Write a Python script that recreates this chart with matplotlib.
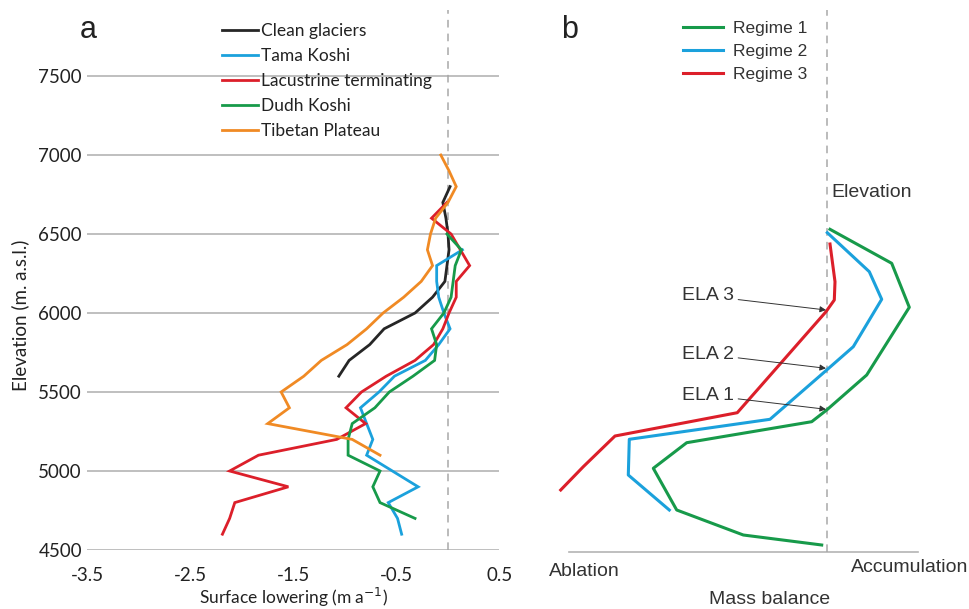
import matplotlib
matplotlib.use("Agg")
import matplotlib.pyplot as plt
import numpy as np

plt.rcParams['axes.unicode_minus'] = False

# ---------------- Panel a data ----------------
clean_elev = [5600, 5700, 5800, 5900, 6000, 6100, 6200, 6300, 6400, 6500, 6600, 6700, 6800]
clean_val = [-1.06, -0.96, -0.76, -0.62, -0.32, -0.15, -0.03, -0.01, 0.01, 0.0, -0.02, -0.05, 0.02]

tama_elev = [4600, 4700, 4800, 4900, 5000, 5100, 5200, 5300, 5400, 5500, 5600, 5700,
             5800, 5900, 6000, 6100, 6200, 6300, 6400]
tama_val = [-0.45, -0.49, -0.58, -0.29, -0.54, -0.79, -0.73, -0.79, -0.85, -0.67, -0.52, -0.22,
            -0.09, 0.02, -0.04, -0.09, -0.11, -0.11, 0.14]

lac_elev = [4600, 4700, 4800, 4900, 5000, 5100, 5200, 5300, 5400, 5500, 5600, 5700,
            5800, 5900, 6000, 6100, 6200, 6300, 6400, 6500, 6600, 6700]
lac_val = [-2.19, -2.12, -2.07, -1.55, -2.12, -1.84, -1.08, -0.80, -0.99, -0.84, -0.60, -0.32,
           -0.14, -0.05, 0.01, 0.08, 0.08, 0.21, 0.12, 0.03, -0.16, -0.01]

dudh_elev = [4700, 4800, 4900, 5000, 5100, 5200, 5300, 5400, 5500, 5600, 5700, 5800,
             5900, 6000, 6100, 6200, 6300, 6400, 6500]
dudh_val = [-0.32, -0.66, -0.73, -0.66, -0.97, -0.97, -0.93, -0.71, -0.57, -0.34, -0.13, -0.11,
            -0.16, -0.04, 0.03, 0.05, 0.07, 0.13, -0.01]

tib_elev = [5100, 5200, 5300, 5400, 5500, 5600, 5700, 5800, 5900, 6000, 6100, 6200,
            6300, 6400, 6500, 6600, 6700, 6800, 6900, 7000]
tib_val = [-0.66, -0.93, -1.75, -1.54, -1.62, -1.40, -1.23, -0.98, -0.79, -0.63, -0.43, -0.26,
           -0.15, -0.20, -0.17, -0.12, 0.0, 0.08, 0.01, -0.07]

series_names = ["Clean glaciers", "Tama Koshi", "Lacustrine terminating", "Dudh Koshi", "Tibetan Plateau"]
colors_a = ["#262626", "#1ba1dc", "#dc1f2a", "#179a4a", "#f08a24"]

yticks_a = [4500, 5000, 5500, 6000, 6500, 7000, 7500]
xticks_a = [-3.5, -2.5, -1.5, -0.5, 0.5]

# ---------------- Panel b data (schematic) ----------------
reg1_mb = [0.03, 0.647, 0.823, 0.397, -0.003, -0.153, -1.403, -1.737, -1.503, -0.837, -0.053]
reg1_z = [3.227, 2.887, 2.447, 1.77, 1.42, 1.303, 1.093, 0.837, 0.42, 0.17, 0.07]
reg2_mb = [0.003, 0.423, 0.547, 0.263, -0.003, -0.57, -1.977, -1.987, -1.577]
reg2_z = [3.193, 2.803, 2.527, 2.053, 1.82, 1.327, 1.127, 0.77, 0.42]
reg3_mb = [0.03, 0.08, 0.073, -0.01, -0.897, -2.12, -2.437, -2.663]
reg3_z = [3.08, 2.703, 2.52, 2.403, 1.393, 1.16, 0.853, 0.62]
regime_names = ["Regime 1", "Regime 2", "Regime 3"]
colors_b = ["#179a4a", "#1ba1dc", "#dc1f2a"]
ela_labels = ["ELA 3", "ELA 2", "ELA 1"]
ela_z = [2.42, 1.837, 1.427]

# ---------------- Figure ----------------
W, H = 970, 609
fig = plt.figure(figsize=(W / 100, H / 100), dpi=100)

font_a = ["Lato", "DejaVu Sans"]
font_b = ["Liberation Sans", "DejaVu Sans"]

# Panel a axes: x -3.5..0.5 at px 87.5..499.5 ; y bottom px 550, top px 10
axa = fig.add_axes([87.5 / W, 1 - 550 / H, 412 / W, 540 / H])
px_per_m = 0.158
ytop = 4500 + 540 / px_per_m
axa.set_xlim(-3.5, 0.5)
axa.set_ylim(4500, ytop)
for s in axa.spines.values():
    s.set_visible(False)
axa.set_yticks(yticks_a)
axa.set_xticks(xticks_a)
axa.set_yticklabels([str(v) for v in yticks_a], fontfamily=font_a, fontsize=13.5, color="#222222")
axa.set_xticklabels([str(v) for v in xticks_a], fontfamily=font_a, fontsize=13.5, color="#222222")
axa.tick_params(axis="both", length=0, pad=4)
axa.tick_params(axis="x", pad=12)
for yv in yticks_a:
    axa.axhline(yv, color="#b4b4b4", lw=1.2, zorder=1)
axa.axvline(0.0, color="#a8a8a8", lw=1.1, ls=(0, (5, 4)), zorder=1)

data_a = [(clean_val, clean_elev), (tama_val, tama_elev), (lac_val, lac_elev),
          (dudh_val, dudh_elev), (tib_val, tib_elev)]
for (xv, yv), name, c in zip(data_a, series_names, colors_a):
    axa.plot(xv, yv, color=c, lw=2.0, label=name, zorder=3, solid_joinstyle="miter")

leg = axa.legend(loc="upper left", bbox_to_anchor=(127.5 / 412, 1 - 6 / 540), frameon=False,
                 prop={"family": font_a, "size": 12.5}, handlelength=2.05, handletextpad=0.22,
                 labelspacing=0.52, borderaxespad=0)
for t in leg.get_texts():
    t.set_color("#222222")

xl = axa.set_xlabel("Surface lowering (m a$^{-1}$)", fontfamily=font_a, fontsize=12.5, color="#222222")
axa.xaxis.set_label_coords(0.5, -47 / 540)
xl.set_va("center")
yl = axa.set_ylabel("Elevation (m. a.s.l.)", fontfamily=font_a, fontsize=13.5, color="#222222")
axa.yaxis.set_label_coords(-67.5 / 412, 0.435)
yl.set_va("center")
fig.text(88 / W, 1 - 30 / H, "a", fontfamily=font_b, fontsize=22, ha="center", va="center", color="#222222")

# Panel b axes: px x 540..940 -> mb (X-827)/100 ; px y 552..10 -> z (552-Y)/100
axb = fig.add_axes([540 / W, 1 - 552 / H, 400 / W, 542 / H])
axb.set_xlim((540 - 827) / 100, (940 - 827) / 100)
axb.set_ylim(0, 5.42)
axb.axis("off")
axb.plot([(569 - 827) / 100, (918 - 827) / 100], [0.0, 0.0], color="#b4b4b4", lw=1.2, clip_on=False)
axb.plot([0, 0], [0, 5.42], color="#a8a8a8", lw=1.1, ls=(0, (5, 4)))

data_b = [(reg1_mb, reg1_z), (reg2_mb, reg2_z), (reg3_mb, reg3_z)]
for (xv, yv), name, c in zip(data_b, regime_names, colors_b):
    axb.plot(xv, yv, color=c, lw=2.2, label=name, zorder=3)

legb = axb.legend(loc="upper left", bbox_to_anchor=(136 / 400, 1 - 4 / 542), frameon=False,
                  prop={"family": font_b, "size": 12.5}, handlelength=2.3, handletextpad=0.6,
                  labelspacing=0.45, borderaxespad=0)
for t in legb.get_texts():
    t.set_color("#333333")

for lab, z in zip(ela_labels, ela_z):
    axb.annotate(lab, xy=(-0.01, z), xytext=(-0.93, z + 0.14),
                 fontfamily=font_b, fontsize=14, color="#333333", ha="right", va="center",
                 arrowprops=dict(arrowstyle="-|>", color="#333333", lw=0.7,
                                 mutation_scale=9, shrinkA=1, shrinkB=0))

fig.text(570 / W, 1 - 30 / H, "b", fontfamily=font_b, fontsize=22, ha="center", va="center", color="#222222")
fig.text(831 / W, 1 - 192 / H, "Elevation", fontfamily=font_b, fontsize=14, ha="left", va="center", color="#333333")
fig.text(584 / W, 1 - 571 / H, "Ablation", fontfamily=font_b, fontsize=14, ha="center", va="center", color="#333333")
fig.text(910 / W, 1 - 567 / H, "Accumulation", fontfamily=font_b, fontsize=14, ha="center", va="center", color="#333333")
fig.text(770 / W, 1 - 599 / H, "Mass balance", fontfamily=font_b, fontsize=14, ha="center", va="center", color="#333333")

fig.savefig("out.png", dpi=100)
